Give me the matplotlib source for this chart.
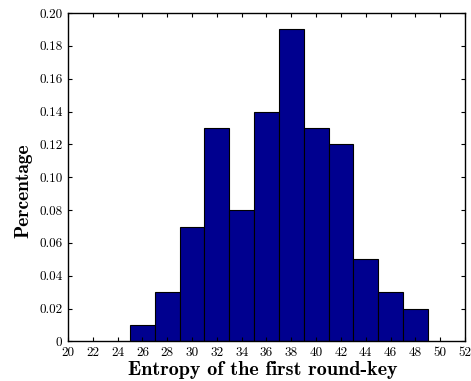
import matplotlib
matplotlib.use('Agg')
import matplotlib.pyplot as plt
import numpy as np

# histogram of first round-key entropy
bin_left = [25, 27, 29, 31, 33, 35, 37, 39, 41, 43, 45, 47]
bin_width = 2
percentage = [0.01, 0.03, 0.07, 0.13, 0.08, 0.14, 0.19, 0.13, 0.12, 0.05, 0.03, 0.02]
xticks = list(range(20, 53, 2))
yticks = [0, 0.02, 0.04, 0.06, 0.08, 0.10, 0.12, 0.14, 0.16, 0.18, 0.20]
ytick_labels = ['0'] + ['%.2f' % v for v in yticks[1:]]

plt.rcParams['font.family'] = 'cmr10'
plt.rcParams['axes.unicode_minus'] = False

fig = plt.figure(figsize=(4.71, 3.81), dpi=100)
ax = fig.add_axes([0.1444, 0.1037, 0.8428, 0.8622])

ax.bar(bin_left, percentage, width=bin_width, align='edge',
       color='#00008f', edgecolor='black', linewidth=0.8)

ax.set_xlim(20, 52)
ax.set_ylim(0, 0.20)
ax.set_xticks(xticks)
ax.set_yticks(yticks)
ax.set_yticklabels(ytick_labels)
ax.tick_params(direction='in', top=True, right=True, labelsize=9.5,
               length=3, width=0.8)
ax.tick_params(axis='x', pad=4)
ax.tick_params(axis='y', pad=4)
for s in ax.spines.values():
    s.set_linewidth(1.0)

ax.set_xlabel('Entropy of the first round-key', fontsize=14.5,
              family='cmb10')
ax.set_ylabel('Percentage', fontsize=14, family='cmb10')
ax.xaxis.set_label_coords(0.49, -0.058)
ax.yaxis.set_label_coords(-0.09, 0.46)

fig.savefig('out.png', dpi=100)
